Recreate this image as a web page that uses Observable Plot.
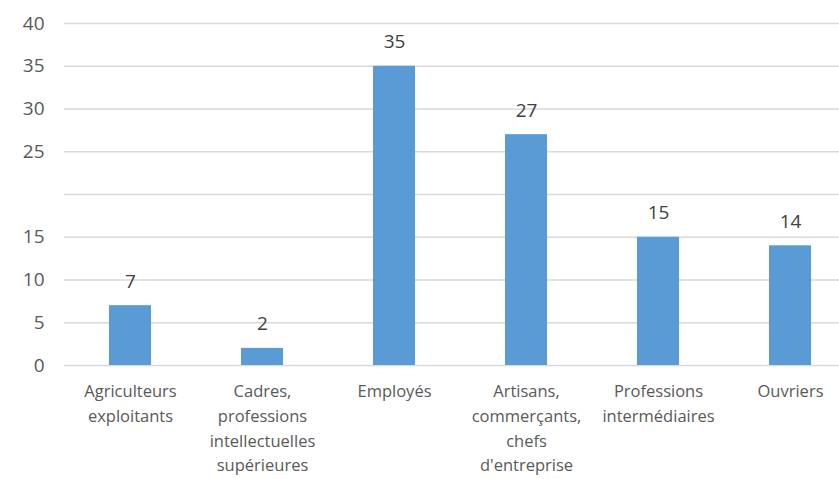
<!DOCTYPE html>
<html>
<head>
<meta charset="utf-8">
<script src="https://cdn.jsdelivr.net/npm/d3@7"></script>
<script src="https://cdn.jsdelivr.net/npm/@observablehq/plot@0.6"></script>
<style>
  html, body { margin: 0; padding: 0; background: #fff; overflow: hidden; }
  #chart svg { overflow: hidden; }
</style>
</head>
<body>
<div id="chart"></div>
<script>
const categories = [
  "Agriculteurs exploitants",
  "Cadres, professions intellectuelles supérieures",
  "Employés",
  "Artisans, commerçants, chefs d'entreprise",
  "Professions intermédiaires",
  "Ouvriers"
];
const categoryLabels = [
  "Agriculteurs\nexploitants",
  "Cadres,\nprofessions\nintellectuelles\nsupérieures",
  "Employés",
  "Artisans,\ncommerçants,\nchefs\nd'entreprise",
  "Professions\nintermédiaires",
  "Ouvriers"
];
const values = [7, 2, 35, 27, 15, 14];
const yTicks = [0, 5, 10, 15, 20, 25, 30, 35, 40];
const yTickLabels = ["0", "5", "10", "15", "", "25", "30", "35", "40"];

const data = categories.map((c, i) => ({category: c, value: values[i]}));
const labelOf = new Map(categories.map((c, i) => [c, categoryLabels[i]]));
const yLabelOf = new Map(yTicks.map((t, i) => [t, yTickLabels[i]]));

const font = "Open Sans, Liberation Sans, sans-serif";

const chart = Plot.plot({
  width: 839,
  height: 479,
  marginTop: 23,
  marginBottom: 114,
  marginLeft: 64,
  marginRight: 0,
  style: {fontFamily: font, background: "#fff"},
  x: {domain: categories, range: [64, 856], paddingInner: 0.682, paddingOuter: 0.341, axis: null, label: null},
  y: {domain: [0, 40], axis: null, label: null},
  marks: [
    Plot.ruleY(yTicks, {stroke: "#d9d9d9", strokeWidth: 1.5}),
    Plot.barY(data, {x: "category", y: "value", fill: "#5b9bd5"}),
    Plot.text(data, {x: "category", y: "value", text: d => String(d.value), dy: -24, fontSize: 19, fill: "#404040"}),
    Plot.axisY({ticks: yTicks, tickSize: 0, tickPadding: 20, fontSize: 19, fill: "#595959", label: null, tickFormat: t => yLabelOf.get(t)}),
    Plot.axisX({tickSize: 0, tickPadding: 14, fontSize: 16.5, lineHeight: 1.5, fill: "#595959", label: null, tickFormat: c => labelOf.get(c)})
  ]
});
document.getElementById("chart").appendChild(chart);
</script>
</body>
</html>
